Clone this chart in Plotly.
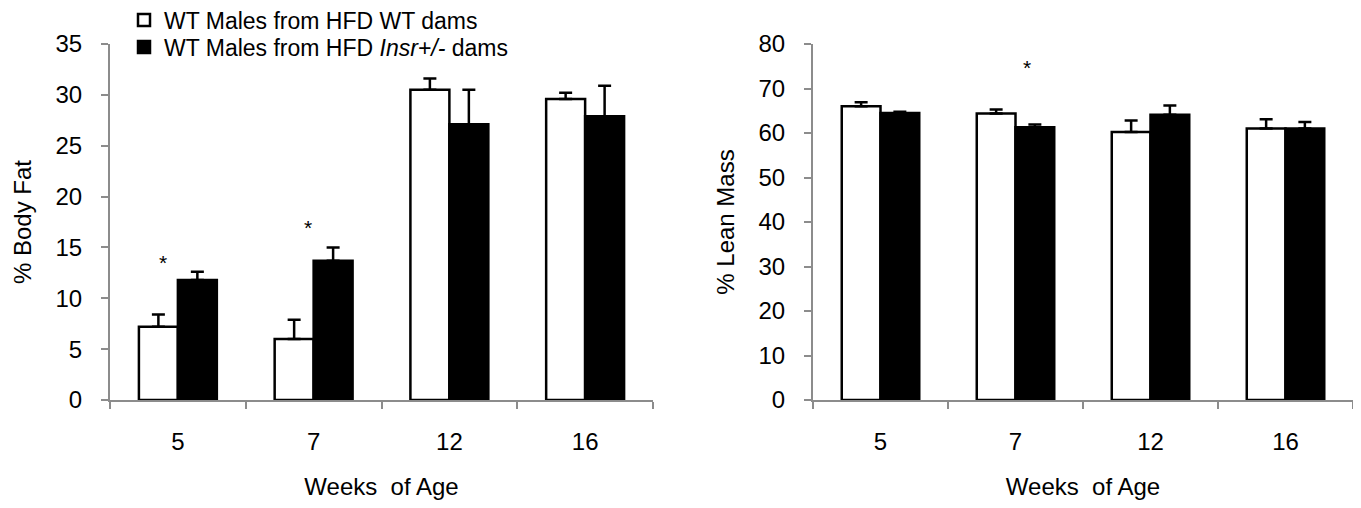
import plotly.graph_objects as go

weeks = ["5", "7", "12", "16"]

fat_wt = [7.2, 6.0, 30.5, 29.6]
fat_wt_err = [1.2, 1.9, 1.1, 0.6]
fat_het = [11.8, 13.7, 27.1, 27.9]
fat_het_err = [0.8, 1.3, 3.4, 3.0]

lean_wt = [66.0, 64.4, 60.2, 61.0]
lean_wt_err = [0.9, 0.9, 2.6, 2.1]
lean_het = [64.5, 61.3, 64.1, 61.0]
lean_het_err = [0.3, 0.6, 2.1, 1.5]

name_wt = "WT Males from HFD WT dams"
name_het = "WT Males from HFD <i>Insr+/-</i> dams"

FONT = "Liberation Sans, Arial, sans-serif"
# page body has an 8px margin; figure sized to fit inside the 1361x508 window
OFF = 8
W, H = 1361 - 2 * OFF, 508 - 2 * OFF

fig = go.Figure()

def add_pair(wt, wt_err, het, het_err, xa, ya, show):
    fig.add_trace(go.Bar(
        x=weeks, y=wt, name=name_wt, xaxis=xa, yaxis=ya, showlegend=show, legend="legend",
        marker=dict(color="white", line=dict(color="black", width=2.5)),
        error_y=dict(type="data", array=wt_err, arrayminus=[0]*4, symmetric=False,
                     color="black", thickness=2.5, width=6.5),
    ))
    fig.add_trace(go.Bar(
        x=weeks, y=het, name=name_het, xaxis=xa, yaxis=ya, showlegend=show, legend="legend2",
        marker=dict(color="black", line=dict(color="black", width=2.5)),
        error_y=dict(type="data", array=het_err, arrayminus=[0]*4, symmetric=False,
                     color="black", thickness=2.5, width=6.5),
    ))

add_pair(fat_wt, fat_wt_err, fat_het, fat_het_err, "x", "y", True)
add_pair(lean_wt, lean_wt_err, lean_het, lean_het_err, "x2", "y2", False)

def px_x(p):
    return (p - OFF) / W

def px_y(p):
    return 1 - (p - OFF) / H

ydom = [px_y(400), px_y(44)]
xcommon = dict(type="category", range=[-0.5, 3.5], automargin=True,
               showline=True, linecolor="#8c8c8c", linewidth=2,
               ticks="outside", tickson="boundaries", ticklen=7, tickcolor="#8c8c8c",
               tickwidth=2, tickfont=dict(size=24, color="black", family=FONT),
               ticklabelstandoff=19, showgrid=False, zeroline=False,
               title=dict(text="Weeks  of Age", font=dict(size=24, color="black", family=FONT),
                          standoff=34))
ycommon = dict(showline=True, linecolor="#8c8c8c", linewidth=2, ticks="outside",
               automargin=False, ticklen=7, tickcolor="#8c8c8c", tickwidth=2,
               tickfont=dict(size=24, color="black", family=FONT), ticklabelstandoff=14,
               showgrid=False, zeroline=False)

legcommon = dict(xanchor="left", yanchor="middle",
                 font=dict(size=23, color="black", family=FONT),
                 bgcolor="rgba(0,0,0,0)", itemwidth=30)

fig.update_layout(
    width=W, height=H, margin=dict(l=0, r=0, t=0, b=0, autoexpand=False),
    paper_bgcolor="white", plot_bgcolor="white",
    barmode="group", bargap=0.426, bargroupgap=0,
    font=dict(family=FONT, color="black"),
    xaxis=dict(domain=[px_x(110), px_x(653)], anchor="y", **xcommon),
    xaxis2=dict(domain=[px_x(813), px_x(1353)], anchor="y2", **xcommon),
    yaxis=dict(domain=ydom, anchor="x", range=[0, 35], dtick=5,
               title=dict(text="% Body Fat", font=dict(size=24, color="black", family=FONT),
                          standoff=17), **ycommon),
    yaxis2=dict(domain=ydom, anchor="x2", range=[0, 80], dtick=10,
                title=dict(text="% Lean Mass", font=dict(size=24, color="black", family=FONT),
                           standoff=17), **ycommon),
    legend=dict(x=px_x(124), y=px_y(20), **legcommon),
    legend2=dict(x=px_x(124), y=px_y(47), **legcommon),
    showlegend=True,
)

stars = [
    dict(xref="x", yref="y", x=weeks.index("5"), y=13.5, xshift=-15),
    dict(xref="x", yref="y", x=weeks.index("7"), y=17.0, xshift=-6),
    dict(xref="x2", yref="y2", x=weeks.index("7"), y=74.7, xshift=11),
]
for s in stars:
    fig.add_annotation(text="*", showarrow=False, font=dict(size=21, color="black", family=FONT), **s)

fig.write_html("out.html")
